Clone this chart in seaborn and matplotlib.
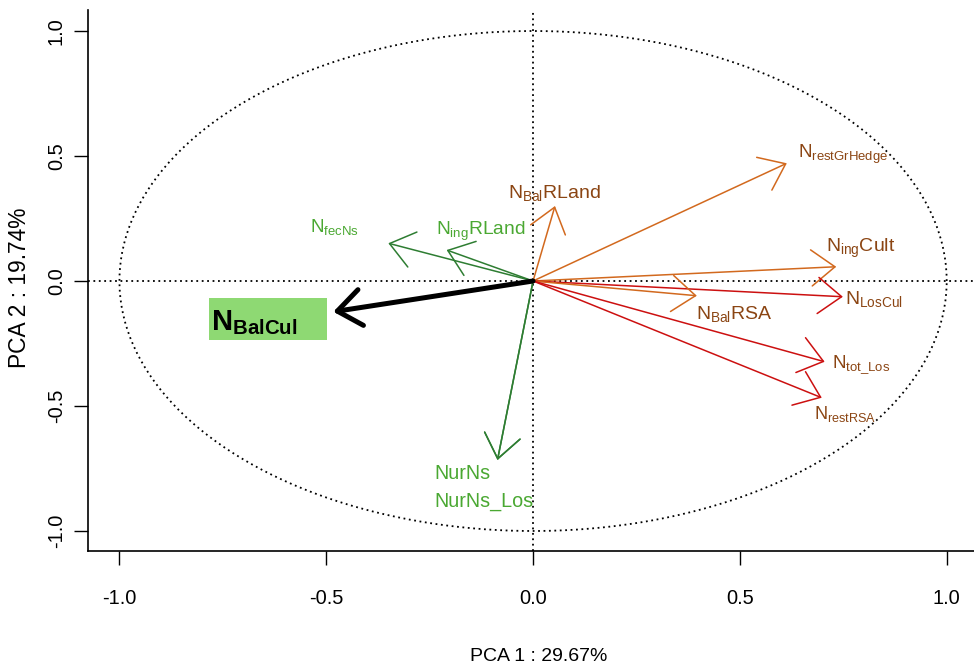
import numpy as np
import pandas as pd
import matplotlib
matplotlib.use("Agg")
import matplotlib.pyplot as plt
import seaborn as sns
from matplotlib.patches import Rectangle

# ---------------- data ----------------
variables = ["N_BalCul", "N_fecNs", "N_ingRLand", "NurNs", "NurNs_Los",
             "N_BalRLand", "N_restGrHedge", "N_ingCult", "N_LosCul",
             "N_BalRSA", "N_tot_Los", "N_restRSA"]
pc1 = [-0.483, -0.350, -0.209, -0.086, -0.086,
       0.053, 0.6135, 0.733, 0.749, 0.396, 0.705, 0.698]
pc2 = [-0.123, 0.151, 0.124, -0.716, -0.716,
       0.300, 0.471, 0.057, -0.063, -0.059, -0.323, -0.467]
group = ["focus", "green", "green", "green", "green",
         "orange", "orange", "orange", "red", "orange", "red", "red"]
xtick_vals = [-1.0, -0.5, 0.0, 0.5, 1.0]
ytick_vals = [-1.0, -0.5, 0.0, 0.5, 1.0]
xlabel = "PCA 1 : 29.67%"
ylabel = "PCA 2 : 19.74%"

df = pd.DataFrame({"var": variables, "pc1": pc1, "pc2": pc2, "group": group})

# ---------------- style ----------------
sns.set_style("ticks")
plt.rcParams["font.family"] = ["Liberation Sans", "DejaVu Sans"]
plt.rcParams["mathtext.fontset"] = "custom"
plt.rcParams["mathtext.rm"] = "Liberation Sans"
plt.rcParams["mathtext.it"] = "Liberation Sans"
plt.rcParams["mathtext.bf"] = "Liberation Sans:bold"

arrow_col = {"focus": "black", "green": "#2E7D32", "orange": "#D2691E", "red": "#CC1010"}
arrow_lw = {"focus": 3.6, "green": 1.1, "orange": 1.1, "red": 1.1}
label_col = {"green": "#4AA832", "brown": "#8B4513", "black": "black"}

# label layout: (text, x, y, size, colour key)
label_layout = {
    "N_BalCul": (r"$\mathbf{N_{BalCul}}$", -0.779, -0.196, 21, "black"),
    "N_fecNs": (r"N$_{\mathrm{fecNs}}$", -0.539, 0.197, 13.5, "green"),
    "N_ingRLand": (r"N$_{\mathrm{ing}}$RLand", -0.235, 0.184, 13.8, "green"),
    "NurNs": ("NurNs", -0.239, -0.792, 14.2, "green"),
    "NurNs_Los": ("NurNs_Los", -0.239, -0.904, 14.2, "green"),
    "N_BalRLand": (r"N$_{\mathrm{Bal}}$RLand", -0.060, 0.331, 14, "brown"),
    "N_restGrHedge": (r"N$_{\mathrm{restGrHedge}}$", 0.641, 0.491, 13.5, "brown"),
    "N_ingCult": (r"N$_{\mathrm{ing}}$Cult", 0.708, 0.117, 14, "brown"),
    "N_LosCul": (r"N$_{\mathrm{LosCul}}$", 0.755, -0.092, 14, "brown"),
    "N_BalRSA": (r"N$_{\mathrm{Bal}}$RSA", 0.393, -0.153, 14, "brown"),
    "N_tot_Los": (r"N$_{\mathrm{tot\_Los}}$", 0.722, -0.349, 13.5, "brown"),
    "N_restRSA": (r"N$_{\mathrm{restRSA}}$", 0.678, -0.553, 13, "brown"),
}

fig = plt.figure(figsize=(9.74, 6.69), dpi=100)
ax = fig.add_axes([88 / 974, (669 - 551) / 669, 886 / 974, 541 / 669])
ax.set_xlim(-1.076, 1.066)
ax.set_ylim(-1.080, 1.084)

# correlation circle
theta = np.linspace(0, 2 * np.pi, 400)
circle = pd.DataFrame({"x": np.cos(theta), "y": np.sin(theta)})
sns.lineplot(data=circle, x="x", y="y", sort=False, estimator=None, ax=ax,
             color="black", lw=1.3, linestyle=(0, (1, 2)))
ax.axhline(0, color="black", lw=1.3, linestyle=(0, (1, 2)))
ax.axvline(0, color="black", lw=1.3, linestyle=(0, (1, 2)))

# highlight box behind N_BalCul
ax.add_patch(Rectangle((-0.784, -0.237), 0.287, 0.170, facecolor="#8ED973",
                       edgecolor="none", zorder=2))

# arrows
for _, r in df.iterrows():
    g = r["group"]
    ax.annotate("", xy=(r["pc1"], r["pc2"]), xytext=(0, 0),
                arrowprops=dict(arrowstyle="->,head_length=17,head_width=13",
                                mutation_scale=1, color=arrow_col[g],
                                lw=arrow_lw[g], shrinkA=0, shrinkB=0),
                zorder=4 if g == "focus" else 3)

# labels
for name in variables:
    txt, lx, ly, fs, ck = label_layout[name]
    ax.text(lx, ly, txt, fontsize=fs, color=label_col[ck], ha="left",
            va="baseline", zorder=5)

# axes
ax.set_xticks(xtick_vals)
ax.set_yticks(ytick_vals)
ax.set_xticklabels([f"{v:.1f}" for v in xtick_vals])
ax.set_yticklabels([f"{v:.1f}" for v in ytick_vals], rotation=90, va="center")
ax.tick_params(axis="x", length=10, width=1.0, pad=17, labelsize=14.4,
               direction="out", colors="black")
ax.tick_params(axis="y", length=10, width=1.0, pad=6, labelsize=14.4,
               direction="out", colors="black")
ax.set_xlabel(xlabel, fontsize=14, color="black")
ax.set_ylabel(ylabel, fontsize=16.4, color="black")
ax.xaxis.set_label_coords(0.509, -0.179)
ax.yaxis.set_label_coords(-0.064, 0.486)
sns.despine(ax=ax)
for s in ["left", "bottom"]:
    ax.spines[s].set_linewidth(1.2)
    ax.spines[s].set_color("black")

fig.savefig("out.png", dpi=100)
